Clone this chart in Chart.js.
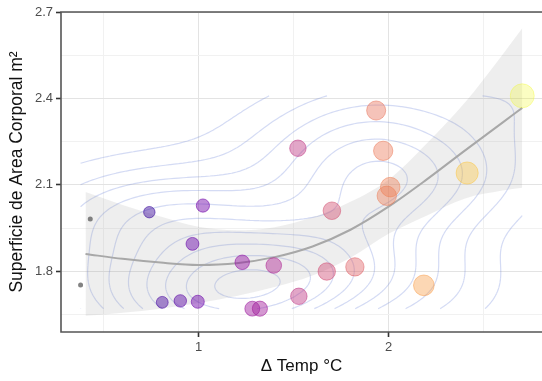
<!DOCTYPE html>
<html>
<head>
<meta charset="utf-8">
<script src="https://cdn.jsdelivr.net/npm/chart.js@4.4.1/dist/chart.umd.min.js"></script>
<style>
  html, body { margin: 0; padding: 0; background: #fff; overflow: hidden; }
  #wrap { width: 542px; height: 381px; }
</style>
</head>
<body>
<div id="wrap"><canvas id="chart"></canvas></div>
<script>
// Datos: Δ Temp (°C) vs superficie corporal (m²)
const tempX = [0.741, 0.809, 0.904, 0.968, 0.996, 1.023, 1.230, 1.283, 1.323, 1.396, 1.523, 1.528,
               1.675, 1.702, 1.823, 1.935, 1.972, 1.991, 2.009, 2.186, 2.414, 2.704];
const areaY = [2.005, 1.692, 1.697, 1.895, 1.694, 2.028, 1.831, 1.670, 1.670, 1.820, 2.227, 1.713,
               1.799, 2.010, 1.815, 2.358, 2.218, 2.062, 2.092, 1.751, 2.141, 2.409];

// puntos sin dato de color (gris)
const greyX = [0.379, 0.430];
const greyY = [1.752, 1.981];

// curva loess + banda de confianza
const smoothX  = [0.405, 0.6, 0.8, 1.0, 1.2, 1.4, 1.6, 1.8, 2.0, 2.2, 2.4, 2.6, 2.704];
const smoothY  = [1.860, 1.843, 1.830, 1.822, 1.828, 1.849, 1.886, 1.944, 2.024, 2.118, 2.218, 2.316, 2.367];
const smoothLo = [1.645, 1.656, 1.670, 1.690, 1.714, 1.745, 1.785, 1.847, 1.930, 1.993, 2.052, 2.080, 2.090];
const smoothHi = [2.075, 2.030, 1.990, 1.954, 1.942, 1.953, 1.987, 2.041, 2.118, 2.243, 2.384, 2.552, 2.644];

// ejes
const xTicks = [1, 2];
const xMinorTicks = [0.5, 1.5, 2.5];
const yTicks = [1.8, 2.1, 2.4, 2.7];
const yMinorTicks = [1.65, 1.95, 2.25, 2.55];

const FONT = "'Liberation Sans', Arial, sans-serif";

// paleta plasma
const plasmaStops = ['#0d0887', '#41049d', '#6a00a8', '#8f0da4', '#b12a90', '#cc4778',
                     '#e16462', '#f2844b', '#fca636', '#fcce25', '#f0f921'];
function hexToRgb(h) {
    return [parseInt(h.slice(1, 3), 16), parseInt(h.slice(3, 5), 16), parseInt(h.slice(5, 7), 16)];
}
function plasma(t, alpha) {
    t = Math.max(0, Math.min(1, t));
    const p = t * (plasmaStops.length - 1);
    const i = Math.min(Math.floor(p), plasmaStops.length - 2);
    const f = p - i;
    const a = hexToRgb(plasmaStops[i]), b = hexToRgb(plasmaStops[i + 1]);
    const c = a.map((v, k) => Math.round(v + (b[k] - v) * f));
    return `rgba(${c[0]},${c[1]},${c[2]},${alpha})`;
}

const xMin = Math.min(...tempX), xMax = Math.max(...tempX);
const tNorm = tempX.map(x => (x - xMin) / (xMax - xMin));
const colorOf = (t, a) => plasma(0.08 + 0.92 * t, a * (1 - 0.4 * t ** 3));

// densidad 2D (como stat_density_2d: kde2d + contornos en pretty())
function quantile7(s, p) {
    const h = (s.length - 1) * p, lo = Math.floor(h);
    return s[lo] + (h - lo) * (s[Math.min(lo + 1, s.length - 1)] - s[lo]);
}
function bandwidthNrd(v) {
    const n = v.length;
    const s = [...v].sort((a, b) => a - b);
    const mean = v.reduce((a, b) => a + b, 0) / n;
    const sd = Math.sqrt(v.reduce((a, b) => a + (b - mean) ** 2, 0) / (n - 1));
    const iqr = quantile7(s, 0.75) - quantile7(s, 0.25);
    return 4 * 1.06 * Math.min(sd, iqr / 1.34) * Math.pow(n, -0.2);
}
function kde2d(xs, ys, n) {
    const hx = bandwidthNrd(xs) / 4, hy = bandwidthNrd(ys) / 4;
    const x0 = Math.min(...xs), x1 = Math.max(...xs);
    const y0 = Math.min(...ys), y1 = Math.max(...ys);
    const gx = [], gy = [];
    for (let i = 0; i < n; i++) {
        gx.push(x0 + (x1 - x0) * i / (n - 1));
        gy.push(y0 + (y1 - y0) * i / (n - 1));
    }
    const phi = u => Math.exp(-0.5 * u * u) / Math.sqrt(2 * Math.PI);
    const z = [];
    for (let i = 0; i < n; i++) {
        const row = [];
        for (let j = 0; j < n; j++) {
            let s = 0;
            for (let k = 0; k < xs.length; k++) {
                s += phi((gx[i] - xs[k]) / hx) * phi((gy[j] - ys[k]) / hy);
            }
            row.push(s / (xs.length * hx * hy));
        }
        z.push(row);
    }
    return { gx, gy, z };
}
function pretty(lo, hi, ndiv) {
    const h = 1.5, h5 = 0.5 + 1.5 * h;
    const cell = (hi - lo) / ndiv;
    const base = Math.pow(10, Math.floor(Math.log10(cell)));
    let unit = base;
    if (2 * base - cell < h * (cell - unit)) {
        unit = 2 * base;
        if (5 * base - cell < h5 * (cell - unit)) {
            unit = 5 * base;
            if (10 * base - cell < h * (cell - unit)) unit = 10 * base;
        }
    }
    const ns = Math.floor(lo / unit + 1e-7), nu = Math.ceil(hi / unit - 1e-7);
    const out = [];
    for (let k = ns; k <= nu; k++) out.push(k * unit);
    return out;
}
function contourSegments(d, level) {
    const { gx, gy, z } = d;
    const segs = [];
    const n = gx.length;
    const lerp = (a, b) => {
        const f = (level - a[2]) / (b[2] - a[2]);
        return [a[0] + (b[0] - a[0]) * f, a[1] + (b[1] - a[1]) * f];
    };
    for (let i = 0; i < n - 1; i++) {
        for (let j = 0; j < n - 1; j++) {
            const c = [
                [gx[i], gy[j], z[i][j]],
                [gx[i + 1], gy[j], z[i + 1][j]],
                [gx[i + 1], gy[j + 1], z[i + 1][j + 1]],
                [gx[i], gy[j + 1], z[i][j + 1]]
            ];
            const pts = [];
            for (let e = 0; e < 4; e++) {
                const a = c[e], b = c[(e + 1) % 4];
                if ((a[2] - level) * (b[2] - level) < 0) pts.push(lerp(a, b));
            }
            if (pts.length === 2) segs.push(pts);
            else if (pts.length === 4) { segs.push([pts[0], pts[1]]); segs.push([pts[2], pts[3]]); }
        }
    }
    return segs;
}

const allX = greyX.concat(tempX), allY = greyY.concat(areaY);
const dens = kde2d(allX, allY, 100);
let zMax = 0, zMin = Infinity;
dens.z.forEach(r => r.forEach(v => { zMax = Math.max(zMax, v); zMin = Math.min(zMin, v); }));
const levels = pretty(zMin, zMax, 10);
const contours = levels.map(l => contourSegments(dens, l));

const densityContours = {
    id: 'densityContours',
    beforeDatasetsDraw(chart) {
        const { ctx, chartArea, scales: { x, y } } = chart;
        ctx.save();
        ctx.beginPath();
        ctx.rect(chartArea.left, chartArea.top, chartArea.right - chartArea.left, chartArea.bottom - chartArea.top);
        ctx.clip();
        ctx.strokeStyle = 'rgba(100,125,215,0.28)';
        ctx.lineWidth = 1.2;
        contours.forEach(segs => {
            ctx.beginPath();
            segs.forEach(([p, q]) => {
                ctx.moveTo(x.getPixelForValue(p[0]), y.getPixelForValue(p[1]));
                ctx.lineTo(x.getPixelForValue(q[0]), y.getPixelForValue(q[1]));
            });
            ctx.stroke();
        });
        ctx.restore();
    }
};

// borde del panel
const panelBorder = {
    id: 'panelBorder',
    afterDraw(chart) {
        const { ctx, chartArea: a } = chart;
        ctx.save();
        ctx.strokeStyle = '#555';
        ctx.lineWidth = 1.6;
        ctx.beginPath();
        ctx.moveTo(chart.width, a.top);
        ctx.lineTo(a.left, a.top);
        ctx.lineTo(a.left, a.bottom);
        ctx.lineTo(chart.width, a.bottom);
        ctx.stroke();
        ctx.restore();
    }
};

const toXY = (xs, ys) => xs.map((x, i) => ({ x, y: ys[i] }));

const gridColor = major => ctx => {
    const v = ctx.tick ? ctx.tick.value : null;
    return major.includes(v) ? '#e3e3e3' : '#f1f1f1';
};
const tickColor = major => ctx => (ctx.tick && major.includes(ctx.tick.value)) ? '#333' : 'rgba(0,0,0,0)';

new Chart(document.getElementById('chart'), {
    type: 'scatter',
    data: {
        datasets: [
            {
                label: 'Area',
                data: toXY(tempX, areaY),
                backgroundColor: tNorm.map(t => colorOf(t, 0.46)),
                borderColor: tNorm.map(t => colorOf(t, 0.56)),
                borderWidth: 1,
                pointRadius: tNorm.map(t => 5.7 + 6.3 * t)
            },
            {
                label: 'NA',
                data: toXY(greyX, greyY),
                backgroundColor: 'rgba(90,90,90,0.75)',
                borderWidth: 0,
                pointRadius: 2.5
            },
            {
                label: 'loess',
                data: toXY(smoothX, smoothY),
                showLine: true,
                borderColor: '#a8a8a8',
                borderWidth: 2,
                pointRadius: 0,
                cubicInterpolationMode: 'monotone',
                fill: false
            },
            {
                label: 'se hi',
                data: toXY(smoothX, smoothHi),
                showLine: true,
                borderWidth: 0,
                borderColor: 'rgba(0,0,0,0)',
                pointRadius: 0,
                cubicInterpolationMode: 'monotone',
                fill: '+1',
                backgroundColor: 'rgba(150,150,150,0.16)'
            },
            {
                label: 'se lo',
                data: toXY(smoothX, smoothLo),
                showLine: true,
                borderWidth: 0,
                borderColor: 'rgba(0,0,0,0)',
                pointRadius: 0,
                cubicInterpolationMode: 'monotone',
                fill: false
            }
        ]
    },
    options: {
        responsive: true,
        maintainAspectRatio: false,
        animation: false,
        layout: { autoPadding: false, padding: { top: 12, right: 0, bottom: 0, left: 0 } },
        plugins: {
            legend: { display: false },
            tooltip: { enabled: false }
        },
        scales: {
            x: {
                type: 'linear',
                min: 0.276,
                max: 2.808,
                afterBuildTicks: s => {
                    s.ticks = xMinorTicks.concat(xTicks).sort((a, b) => a - b).map(v => ({ value: v }));
                },
                afterFit: s => { s.height = 49; },
                border: { display: false },
                grid: {
                    color: gridColor(xTicks),
                    tickColor: tickColor(xTicks),
                    tickLength: 5,
                    tickWidth: 1.6
                },
                ticks: {
                    autoSkip: false,
                    maxRotation: 0,
                    padding: 3,
                    color: '#4d4d4d',
                    font: { family: FONT, size: 13 },
                    callback: v => xTicks.includes(v) ? String(v) : ''
                },
                title: {
                    display: true,
                    text: 'Δ Temp °C',
                    color: '#111',
                    font: { family: FONT, size: 17 },
                    padding: { top: 0, bottom: 4 }
                }
            },
            y: {
                type: 'linear',
                min: 1.589,
                max: 2.7,
                afterBuildTicks: s => {
                    s.ticks = yMinorTicks.concat(yTicks).sort((a, b) => a - b).map(v => ({ value: v }));
                },
                afterFit: s => { s.width = 61; },
                border: { display: false },
                grid: {
                    color: gridColor(yTicks),
                    tickColor: tickColor(yTicks),
                    tickLength: 5,
                    tickWidth: 1.6
                },
                ticks: {
                    autoSkip: false,
                    padding: 3,
                    color: '#4d4d4d',
                    font: { family: FONT, size: 13 },
                    callback: v => yTicks.includes(v) ? v.toFixed(1) : ''
                },
                title: {
                    display: true,
                    text: 'Superficie de Area Corporal m²',
                    color: '#111',
                    font: { family: FONT, size: 17.5 },
                    padding: { top: 7, bottom: 0 }
                }
            }
        }
    },
    plugins: [densityContours, panelBorder]
});
</script>
</body>
</html>
